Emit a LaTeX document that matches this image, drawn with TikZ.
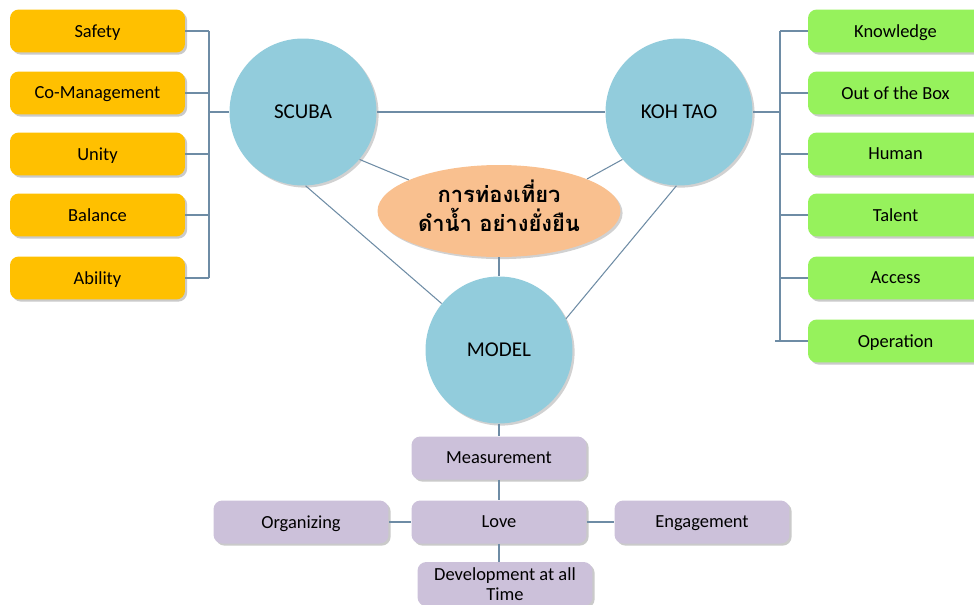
\documentclass[tikz,border=0pt]{standalone}
\usepackage{fontspec}
\setmainfont{Carlito}
\newfontfamily\thaifont[Script=Thai]{Loma}
\usepackage{tikz}
\usetikzlibrary{shapes.geometric,shadows}
\definecolor{gold}{RGB}{255,192,0}
\definecolor{lime}{RGB}{150,242,92}
\definecolor{sky}{RGB}{146,204,220}
\definecolor{peach}{RGB}{249,192,143}
\definecolor{lilac}{RGB}{204,193,218}
\definecolor{wire}{RGB}{110,140,165}

\begin{document}
\begin{tikzpicture}[x=0.02cm,y=-0.02cm,
  box/.style={rounded corners=5pt, minimum width=3.5cm, minimum height=0.86cm,
    font=\fontsize{10.5}{12}\selectfont, text depth=0pt,
    drop shadow={shadow xshift=1.2pt, shadow yshift=-1.2pt, opacity=0.35, fill=black!60}},
  ball/.style={circle, fill=sky, minimum size=2.94cm, font=\fontsize{12}{14}\selectfont,
    drop shadow={shadow xshift=1.2pt, shadow yshift=-1.2pt, opacity=0.3, fill=black!60}},
  line/.style={draw=wire, line width=0.6pt}]
\useasboundingbox (0,0) rectangle (974,605);
\clip (0,0) rectangle (974,605);

% left side
\node[box, fill=gold] (safety) at (97.5,31) {Safety};
\node[box, fill=gold] (comanage) at (97.5,93) {Co-Management};
\node[box, fill=gold] (unity) at (97.5,154) {Unity};
\node[box, fill=gold] (balance) at (97.5,215) {Balance};
\node[box, fill=gold] (ability) at (97.5,278) {Ability};

% right side
\node[box, fill=lime] (know) at (895.5,31) {Knowledge};
\node[box, fill=lime] (outbox) at (895.5,93) {Out of the Box};
\node[box, fill=lime] (human) at (895.5,154) {Human};
\node[box, fill=lime] (talent) at (895.5,215) {Talent};
\node[box, fill=lime] (access) at (895.5,278) {Access};
\node[box, fill=lime] (oper) at (895.5,341) {Operation};

% circles
\node[ball] (scuba) at (303,112) {SCUBA};
\node[ball] (koh) at (679,112) {KOH TAO};
\node[ball] (model) at (499,350) {MODEL};
\node[ellipse, fill=peach, minimum width=4.86cm, minimum height=1.84cm, align=center,
  inner sep=0pt, text depth=6pt,
  drop shadow={shadow xshift=1.2pt, shadow yshift=-1.2pt, opacity=0.3, fill=black!60},
  font=\thaifont\bfseries\fontsize{12.5}{16.5}\selectfont] (tour) at (499,211)
  {การท่องเที่ยว\\ดำน้ำ อย่างยั่งยืน};

% bottom
\node[box, fill=lilac] (meas) at (499,458) {Measurement};
\node[box, fill=lilac] (love) at (499,522) {Love};
\node[box, fill=lilac] (organ) at (301,522) {Organizing};
\node[box, fill=lilac] (engage) at (702,522) {Engagement};
\node[box, fill=lilac, align=center, minimum height=0.88cm, inner ysep=1pt,
  font=\fontsize{10.5}{11.5}\selectfont] (devel) at (505,584) {Development at all\\Time};

% brackets
\coordinate (lj) at (209,112);
\coordinate (rj) at (780,112);
\foreach \n in {safety,comanage,unity,balance,ability}
  \draw[line] (\n.east) -- (lj |- \n.east);
\draw[line] (lj |- safety.east) -- (lj |- ability.east);
\draw[line] (lj) -- (scuba);
\foreach \n in {know,outbox,human,talent,access}
  \draw[line] (\n.west) -- (rj |- \n.west);
\draw[line] (oper.west) -- ++(-33,0);
\draw[line] (rj |- know.west) -- (rj |- oper.west);
\draw[line] (rj) -- (koh);

% links
\draw[line] (scuba) -- (koh);
\draw[line] (scuba.-40) -- (tour.161);
\draw[line] (koh.220) -- (tour.20);
\draw[line] (scuba.-88) -- (model.141);
\draw[line] (koh.-92) -- (model.25);
\draw[line] (tour) -- (model);
\draw[line] (model) -- (meas);
\draw[line] (meas) -- (love);
\draw[line] (love) -- (organ);
\draw[line] (love) -- (engage);
\draw[line] (love.south) -- (love.south |- devel.north);
\end{tikzpicture}
\end{document}
